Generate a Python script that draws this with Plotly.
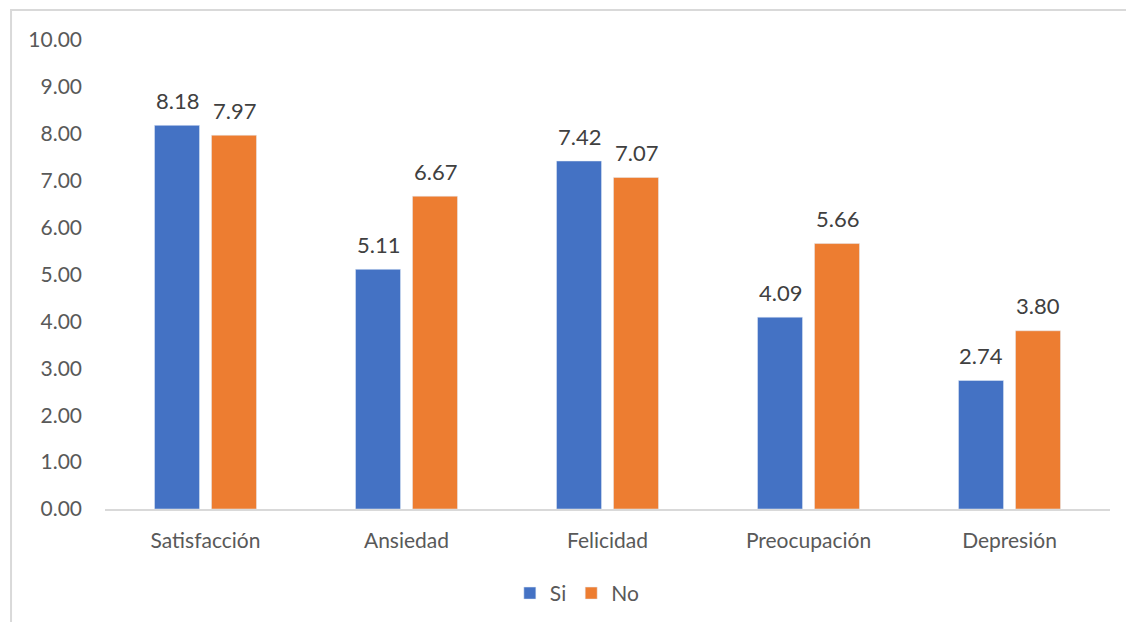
import plotly.graph_objects as go

categorias = ["Satisfacción", "Ansiedad", "Felicidad", "Preocupación", "Depresión"]
si_valores = [8.18, 5.11, 7.42, 4.09, 2.74]
no_valores = [7.97, 6.67, 7.07, 5.66, 3.80]
y_ticks = [0, 1, 2, 3, 4, 5, 6, 7, 8, 9, 10]

AZUL = "#4472C4"
NARANJA = "#ED7D31"
FUENTE = "Lato, 'Open Sans', sans-serif"

fig = go.Figure()
fig.add_trace(go.Bar(name="Si", x=categorias, y=si_valores, marker_color=AZUL))
fig.add_trace(go.Bar(name="No", x=categorias, y=no_valores, marker_color=NARANJA))

# value labels above each bar
for serie, desplaz in ((si_valores, -28.5), (no_valores, 28.5)):
    for cat, val in zip(categorias, serie):
        fig.add_annotation(
            x=cat, y=val, text=f"{val:.2f}", showarrow=False,
            xshift=desplaz, yshift=25, yanchor="middle",
            font=dict(family=FUENTE, size=22, color="#404040"),
        )

# light frame around the chart area
fig.add_shape(type="rect", xref="paper", yref="paper",
              x0=-0.0935, x1=1.2, y0=-0.5, y1=1.064,
              line=dict(color="#D9D9D9", width=2), layer="below")

fig.update_layout(
    width=1126, height=622,
    margin=dict(l=105, r=16, t=40, b=113, autoexpand=False),
    paper_bgcolor="white", plot_bgcolor="white",
    barmode="group", bargap=0.433, bargroupgap=0.21,
    font=dict(family=FUENTE, size=21, color="#595959"),
    legend=dict(orientation="h", x=0.47, xanchor="center", y=-0.18, yanchor="middle",
                font=dict(size=21, color="#595959"), itemwidth=30, traceorder="normal"),
    showlegend=True,
)
fig.update_xaxes(showline=True, linecolor="#D9D9D9", linewidth=1.5, ticks="",
                 showgrid=False, ticklabelstandoff=12, automargin=False)
fig.update_yaxes(range=[0, 10], tickvals=y_ticks, tickformat=".2f", showgrid=False,
                 zeroline=False, showline=False, ticks="", ticklabelstandoff=22,
                 automargin=False)

fig.write_html("out.html")
